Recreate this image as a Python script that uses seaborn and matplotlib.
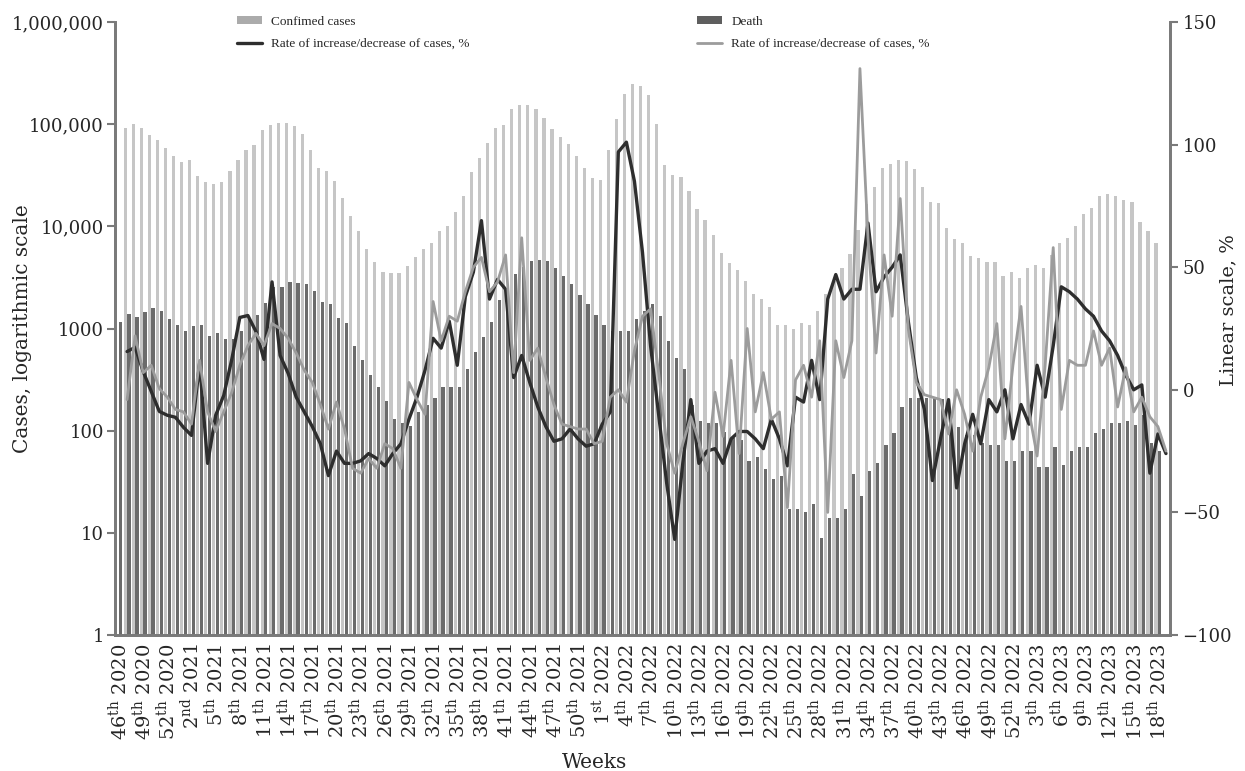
import matplotlib
matplotlib.use("Agg")
import matplotlib.pyplot as plt
import numpy as np
import pandas as pd
import seaborn as sns
from matplotlib.patches import Patch
from matplotlib.lines import Line2D

# ---- calendar weeks (46th 2020 ... 19th 2023) ----
week_years = [2020] * 8 + [2021] * 52 + [2022] * 52 + [2023] * 19
week_numbers = list(range(46, 54)) + list(range(1, 53)) + list(range(1, 53)) + list(range(1, 20))

# ---- weekly confirmed cases ----
confirmed = [
    None, 92000, 100000, 92000, 79000, 70000, 59000, 49000, 43000, 45000,
    31000, 27000, 26000, 27000, 35000, 45000, 56000, 62000, 88000, 98000,
    102000, 102000, 96000, 80000, 56000, 37000, 35000, 28000, 19000, 12700,
    9000, 6000, 4500, 3600, 3500, 3500, 4100, 5000, 6000, 6900,
    9000, 10000, 13800, 20000, 34000, 47000, 65000, 92000, 98000, 142000,
    154000, 154000, 142000, 115000, 90000, 75000, 64000, 49000, 37000, 30000,
    28600, 56000, 112000, 198000, 248000, 237000, 195000, 101000, 40000, 31800,
    30400, 22000, 14800, 11600, 8200, 5500, 4400, 3700, 2900, 2200,
    1950, 1630, 1090, 1070, 1000, 1120, 1070, 1470, 2200, 2900,
    3900, 5400, 9300, 16600, 24500, 37000, 41000, 45000, 44000, 36000,
    24000, 17400, 17000, 9700, 7500, 6900, 5100, 4900, 4500, 4500,
    3300, 3600, 3150, 3900, 4200, 3900, 5200, 6800, 7700, 10100,
    13300, 15200, 19600, 20900, 20000, 18200, 17400, 11000, 9000, 6800,
    None,
]

# ---- weekly deaths ----
deaths = [
    1170, 1400, 1290, 1450, 1580, 1470, 1230, 1080, 940, 1050,
    1080, 840, 900, 790, 790, 940, 1230, 1350, 1770, 2540,
    2540, 2880, 2800, 2750, 2340, 1830, 1750, 1280, 1120, 680,
    490, 350, 265, 193, 131, 120, 110, 154, 177, 211,
    265, 265, 270, 400, 595, 820, 1170, 1880, 2500, 3400,
    4000, 4600, 4700, 4600, 3900, 3300, 2750, 2140, 1750, 1370,
    1070, 935, 935, 935, 1230, 1470, 1750, 1340, 750, 520,
    400, 180, 125, 118, 118, 98, 85, 81, 50, 55,
    42, 34, 36, 17, 17, 16, 19, 9, 14, 14,
    17, 38, 23, 40, 48, 72, 94, 169, 211, 211,
    211, 211, 202, 123, 108, 90, 90, 75, 72, 72,
    50, 50, 63, 63, 44, 44, 69, 46, 63, 69,
    69, 94, 103, 118, 118, 123, 114, 141, 75, 63,
    None,
]

# ---- week-over-week change of confirmed cases, % ----
rate_cases = [
    None, 15.6, 17.3, 7.5, -0.7, -8.8, -10.4, -11.2, -15.3, -18.6,
    10.7, -30, -10.4, -2.3, 12.4, 29.5, 30.3, 23.8, 12.4, 44,
    14, 6.7, -3, -9, -15, -22, -35, -25, -30, -30,
    -29, -26, -28, -31, -26, -22, -12, -3, 8, 21,
    17, 28, 10, 38, 48, 69, 37, 45, 41, 5,
    14, 3, -7, -15, -21, -20, -16, -20, -23, -22,
    -14, -9, 97, 101, 85, 56, 18, -10, -38, -61,
    -30, -4, -30, -25, -24, -30, -20, -17, -17, -20,
    -24, -12, -20, -31, -3, -5, 12, -4, 37, 47,
    37, 41, 41, 68, 40, 46, 50, 55, 28, 5,
    -8, -37, -20, -4, -40, -22, -10, -22, -4, -9,
    0, -20, -6, -14, 10, -3, 18, 42, 40, 37,
    33, 30, 24, 20, 14, 6, 0, 2, -34, -18,
    -26,
]

# ---- week-over-week change of deaths, % ----
rate_deaths = [
    None, -4, 22, 7, 10, 0.5, -3, -8, -9, -14,
    12, -9, -17, -9, -1, 10, 18, 23, 18, 27,
    25, 21, 15, 8, 3, -6, -16, -5, -16, -32,
    -34, -28, -32, -22, -24, -32, 3, -4, -10, 36,
    20, 30, 28, 40, 50, 54, 40, 44, 55, 7,
    62, 12, 17, 5, -6, -14, -15, -16, -16, -22,
    -21, -3, 0, -5, 16, 30, 33, 7, -22, -34,
    -22, -11, -21, -33, -1, -19, 12, -26, 25, -9,
    7, -12, -9, -48, 4, 10, -3, 20, -50, 20,
    5, 20, 131, 62, 15, 55, 30, 78, 25, 3,
    -2, -3, -4, -18, 0, -10, -25, -3, 9, 27,
    -20, 10, 34, -9, -27, 10, 58, -8, 12, 10,
    10, 24, 10, 17, -7, 9, -9, -3, -11, -15,
    -25,
]

LIGHT = "#c6c6c6"
DARK = "#6b6b6b"
LINE_DARK = "#2e2e2e"
LINE_LIGHT = "#9c9c9c"
AXIS = "#7a7a7a"


def week_label(num, year):
    suffix = "st" if num == 1 else ("nd" if num == 2 else "th")
    return f"{num}$^{{\\mathrm{{{suffix}}}}}$ {year}"


n = len(week_numbers)
pos = np.arange(n)

bars = pd.DataFrame({
    "pos": np.concatenate([pos, pos]),
    "value": np.array(confirmed + deaths, dtype=float),
    "series": ["Confimed cases"] * n + ["Death"] * n,
})

sns.set_theme(style="white")
plt.rcParams["font.family"] = ["DejaVu Serif"]
plt.rcParams["mathtext.fontset"] = "dejavuserif"

W, H = 1245, 771
fig = plt.figure(figsize=(W / 100, H / 100), dpi=100)
x0, x1, y0, y1 = 115, 1170, 22, 635
ax = fig.add_axes([x0 / W, 1 - y1 / H, (x1 - x0) / W, (y1 - y0) / H])
ax.set_yscale("log")

sns.barplot(
    data=bars, x="pos", y="value", hue="series", order=list(pos),
    hue_order=["Confimed cases", "Death"], palette=[LIGHT, DARK],
    width=0.92, gap=0.14, errorbar=None, legend=False, ax=ax,
    linewidth=0, saturation=1,
)

ax.set_xlim(-0.5, n - 0.5)
ax.set_ylim(1, 1e6)
ax.set_yticks([1, 10, 100, 1000, 1e4, 1e5, 1e6])
ax.set_yticklabels(["1", "10", "100", "1000", "10,000", "100,000", "1,000,000"])
ax.yaxis.set_minor_locator(matplotlib.ticker.NullLocator())

major = pos[::3]
ax.set_xticks(major)
ax.set_xticklabels([week_label(week_numbers[i], week_years[i]) for i in major],
                   rotation=90, fontsize=14)
ax.set_xticks(np.arange(-0.5, n, 1.0), minor=True)
ax.tick_params(axis="x", which="major", length=0, pad=6)
ax.tick_params(axis="x", which="minor", length=5, width=1.2, color=AXIS, direction="out")
ax.tick_params(axis="y", which="major", length=6, width=1.5, color=AXIS,
               direction="out", labelsize=13, pad=2)
ax.set_xlabel("")
ax.set_ylabel("Cases, logarithmic scale", fontsize=14.5)
ax.yaxis.set_label_coords(-0.079, 0.5)

ax2 = ax.twinx()
sns.lineplot(x=pos, y=np.array(rate_cases, dtype=float), ax=ax2,
             color=LINE_DARK, linewidth=2.4)
sns.lineplot(x=pos, y=np.array(rate_deaths, dtype=float), ax=ax2,
             color=LINE_LIGHT, linewidth=2.0)
ax2.set_ylim(-100, 150)
ax2.set_yticks([-100, -50, 0, 50, 100, 150])
ax2.set_yticklabels(["\u2212100", "\u221250", "0", "50", "100", "150"])
ax2.tick_params(axis="y", length=6, width=1.5, color=AXIS, direction="out",
                labelsize=13, pad=3)
ax2.set_ylabel("Linear scale, %", fontsize=14, rotation=90)
ax2.yaxis.set_label_coords(1.047, 0.53)
ax2.set_xlim(-0.5, n - 0.5)

for a in (ax, ax2):
    a.spines["top"].set_visible(False)
    for s in ("left", "right", "bottom"):
        a.spines[s].set_color(AXIS)
        a.spines[s].set_linewidth(2.0)
    a.grid(False)

fig.text(595 / W, 1 - 763 / H, "Weeks", ha="center", va="center", fontsize=14.5)

leg_font = {"family": "Liberation Serif", "size": 9.5}
leg_kw = dict(loc="upper left", bbox_transform=fig.transFigure, frameon=False,
              prop=leg_font, handlelength=1.9, handleheight=0.55,
              labelspacing=0.75, borderpad=0, borderaxespad=0, handletextpad=0.7)
leg1 = ax2.legend(
    handles=[Patch(facecolor="#ababab", edgecolor="none"),
             Line2D([], [], color=LINE_DARK, lw=2.4)],
    labels=["Confimed cases", "Rate of increase/decrease of cases, %"],
    bbox_to_anchor=(237 / W, 1 - 16 / H), **leg_kw,
)
ax2.add_artist(leg1)
ax2.legend(
    handles=[Patch(facecolor="#5e5e5e", edgecolor="none"),
             Line2D([], [], color=LINE_LIGHT, lw=2.0)],
    labels=["Death", "Rate of increase/decrease of cases, %"],
    bbox_to_anchor=(697 / W, 1 - 16 / H), **leg_kw,
)

fig.savefig("out.png", dpi=100)
